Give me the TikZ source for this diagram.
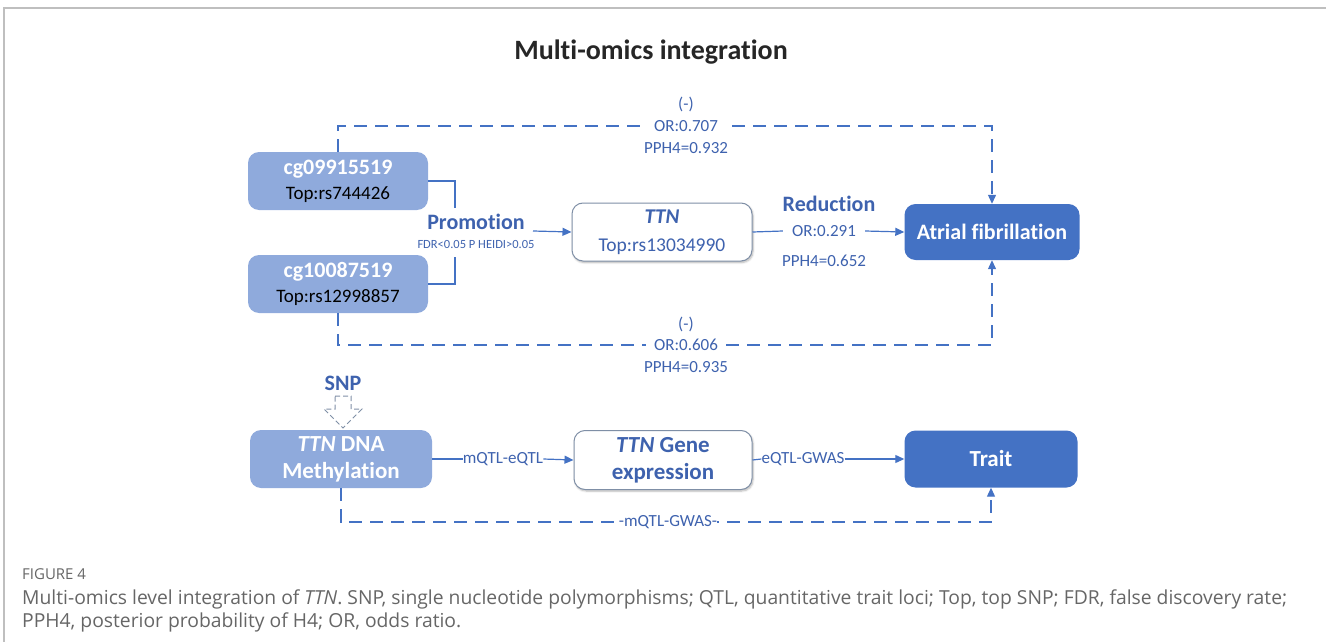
\documentclass[tikz,border=0pt]{standalone}
\usepackage{fontspec}
\setmainfont{Carlito}[Ligatures=NoCommon]
\newfontfamily\capfont{Open Sans}
\usetikzlibrary{positioning,arrows.meta,shadows.blur}
\definecolor{midblue}{HTML}{8FAADC}
\definecolor{darkblue}{HTML}{4472C4}
\definecolor{lineblue}{HTML}{4472C4}
\definecolor{textblue}{HTML}{3E62AE}
\definecolor{snpgray}{HTML}{7F8FA6}
\definecolor{capgray}{HTML}{666666}

\begin{document}
\begin{tikzpicture}[x=1pt, y=-1pt,
    box/.style={rounded corners=11pt, minimum width=180pt, minimum height=58pt, align=center, inner sep=0pt},
    midbox/.style={box, fill=midblue, font=\fontsize{19}{25}\selectfont},
    darkbox/.style={box, fill=darkblue, text=white, font=\fontsize{22}{26}\selectfont\bfseries},
    whitebox/.style={box, fill=white, draw=snpgray, line width=1pt, text=textblue,
        blur shadow={shadow blur steps=6, shadow xshift=1pt, shadow yshift=-1.5pt, shadow opacity=30}},
    lbl/.style={text=textblue, font=\fontsize{17}{20}\selectfont, inner sep=1pt},
    head/.style={text=textblue, font=\fontsize{22}{25}\selectfont\bfseries, inner sep=1pt},
    link/.style={draw=lineblue, line width=1.2pt},
    arr/.style={link, -{Triangle[length=9pt, width=8pt]}},
    dlink/.style={arr, dash pattern=on 13pt off 8pt}]
    \useasboundingbox (0,0) rectangle (1326,642);
    % frame
    \draw[black!25, line width=1.5pt] (4,642) -- (4,8) -- (1326,8);
    \node[font=\fontsize{28}{32}\selectfont\bfseries, text=black!85] (title) at (651,52) {Multi-omics integration};

    % upper block
    \node[midbox] (cgA) at (338,181) {{\fontsize{22}{25}\selectfont\bfseries\color{white}cg09915519}\\Top:rs744426};
    \node[midbox] (cgB) at (338,284) {{\fontsize{22}{25}\selectfont\bfseries\color{white}cg10087519}\\Top:rs12998857};
    \node[head] (prom) at (476,222) {Promotion};
    \node[lbl, font=\fontsize{12.5}{14}\selectfont, inner sep=0pt] (fdr) at (476,244) {FDR<0.05 P HEIDI>0.05};
    \node[whitebox, font=\fontsize{19.5}{28}\selectfont] (ttn) at (662,232) {{\fontsize{21}{28}\selectfont\bfseries\itshape TTN}\\Top:rs13034990};
    \node[head] (red) at (829,204) {Reduction};
    \node[lbl, inner xsep=9pt] (or1) at (824,231) {OR:0.291};
    \node[lbl] (pp1) at (824,261) {PPH4=0.652};
    \node[darkbox, minimum width=175pt, minimum height=56pt] (af) at (992,232) {Atrial fibrillation};
    \coordinate (brA) at (455,208);
    \coordinate (brB) at (455,257);
    \coordinate (topY) at (0,126);
    \coordinate (botY) at (0,345);
    \draw[link] (cgA.east) -| (brA);
    \draw[link] (cgB.east) -| (brB);
    \draw[arr] (533,231) -- (ttn.west);
    \draw[link] (ttn.east) -- (or1.west);
    \draw[arr] (or1.east) -- (af.west);
    \draw[dlink] (cgA.north) |- (topY -| af.north) -- (af.north);
    \draw[dlink] (cgB.south) |- (botY -| af.south) -- (af.south);
    \node[lbl, fill=white, inner xsep=8pt, inner ysep=0pt] (or2) at (686,126) {OR:0.707};
    \node[lbl, inner sep=0pt] (neg2) at (686,104) {(-)};
    \node[lbl, inner sep=0pt] (pp2) at (686,148) {PPH4=0.932};
    \node[lbl, fill=white, inner xsep=8pt, inner ysep=0pt] (or3) at (686,345) {OR:0.606};
    \node[lbl, inner sep=0pt] (neg3) at (686,324) {(-)};
    \node[lbl, inner sep=0pt] (pp3) at (686,367) {PPH4=0.935};

    % lower block
    \node[head] (snp) at (343,383) {SNP};
    \draw[snpgray, line width=1pt, dash pattern=on 5pt off 3pt]
        (335,396) -- (351,396) -- (351,409) -- (362,409) -- (343,428) -- (324,409) -- (335,409) -- cycle;
    \node[box, fill=midblue, text=white, font=\fontsize{23}{27}\selectfont\bfseries,
        minimum width=182pt] (meth) at (341,459) {{\itshape TTN} DNA\\Methylation};
    \node[whitebox, font=\fontsize{23}{27}\selectfont\bfseries, minimum width=178pt, minimum height=59pt]
        (gene) at (663,460) {{\itshape TTN} Gene\\expression};
    \node[darkbox, font=\fontsize{23}{27}\selectfont\bfseries, minimum width=173pt, minimum height=57pt] (trait) at (991,459) {Trait};
    \node[lbl, inner sep=0pt] (me) at (503,459) {mQTL-eQTL};
    \node[lbl, inner sep=0pt] (eg) at (803,459) {eQTL-GWAS};
    \coordinate (lowY) at (0,522);
    \foreach \u/\v in {meth/me, gene/eg}
        \draw[link] (\u.east) -- (\v.west);
    \foreach \u/\v in {me/gene, eg/trait}
        \draw[arr] (\u.east) -- (\v.west);
    \draw[dlink] (meth.south) |- (lowY -| trait.south) -- (trait.south);
    \node[lbl, fill=white, inner sep=0pt] (mg) at (668,522) {-mQTL-GWAS-};

    % caption
    \node[anchor=west, text=capgray, font=\capfont\fontsize{15}{17}\selectfont, inner sep=0pt] (fig) at (22,574) {FIGURE 4};
    \node[anchor=north west, align=left, text=capgray, font=\capfont\fontsize{19.3}{23}\selectfont, inner sep=0pt]
        (cap) at (22,590) {Multi-omics level integration of \textit{TTN}. SNP, single nucleotide polymorphisms; QTL, quantitative trait loci; Top, top SNP; FDR, false discovery rate;\\
        PPH4, posterior probability of H4; OR, odds ratio.};
\end{tikzpicture}
\end{document}
